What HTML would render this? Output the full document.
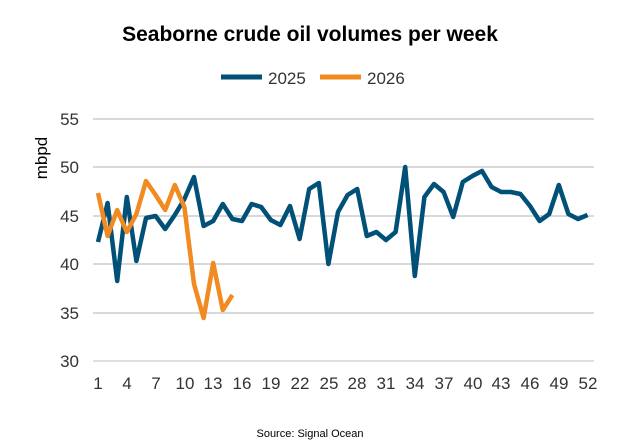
<!DOCTYPE html><html><head><style>body{margin:0;background:#fff}svg{display:block}text{font-family:"Liberation Sans",sans-serif}</style></head><body>
<svg width="620" height="443" xmlns="http://www.w3.org/2000/svg">
<text x="310" y="41" text-anchor="middle" font-size="21" font-weight="bold" fill="#000">Seaborne crude oil volumes per week</text>
<line x1="221" y1="77" x2="262" y2="77" stroke="#005078" stroke-width="5"/><text x="268" y="84" font-size="17" fill="#333">2025</text>
<line x1="320" y1="77" x2="361" y2="77" stroke="#f28a22" stroke-width="5"/><text x="367" y="84" font-size="17" fill="#333">2026</text>
<g stroke="#d9d9d9" stroke-width="2"><line x1="93" y1="119" x2="594" y2="119"/><line x1="93" y1="167" x2="594" y2="167"/><line x1="93" y1="216" x2="594" y2="216"/><line x1="93" y1="264" x2="594" y2="264"/><line x1="93" y1="313" x2="594" y2="313"/></g>
<line x1="93" y1="361" x2="594" y2="361" stroke="#bfbfbf" stroke-width="1"/>
<g font-size="17" fill="#333" text-anchor="end"><text x="79" y="125">55</text><text x="79" y="173">50</text><text x="79" y="222">45</text><text x="79" y="270">40</text><text x="79" y="319">35</text><text x="79" y="367">30</text></g>
<text transform="translate(47,158) rotate(-90)" font-size="17" fill="#000" text-anchor="middle">mbpd</text>
<g font-size="17" fill="#333" text-anchor="middle"><text x="98" y="389">1</text><text x="127" y="389">4</text><text x="156" y="389">7</text><text x="185" y="389">10</text><text x="213" y="389">13</text><text x="242" y="389">16</text><text x="271" y="389">19</text><text x="300" y="389">22</text><text x="329" y="389">25</text><text x="357" y="389">28</text><text x="386" y="389">31</text><text x="415" y="389">34</text><text x="444" y="389">37</text><text x="473" y="389">40</text><text x="501" y="389">43</text><text x="530" y="389">46</text><text x="559" y="389">49</text><text x="588" y="389">52</text></g>
<polyline fill="none" stroke="#005078" stroke-width="4.5" stroke-linejoin="round" points="98,242 107.6,203 117.2,281 126.8,197 136.4,261 146,218 155.6,216 165.2,229 174.8,215 184.4,199 194,177 203.6,226 213.2,221 222.8,204 232.4,219 242,221 251.6,204 261.2,207 270.8,220 280.4,225 290,206 299.6,239 309.2,189 318.8,183 328.4,264 338,212 347.6,195 357.2,189 366.8,236 376.4,232 386,240 395.6,232 405.2,167 414.8,276 424.4,197 434,184 443.6,192 453.2,217 462.8,182 472.4,176 482,171 491.6,187 501.2,192 510.8,192 520.4,194 530,206 539.6,221 549.2,214 558.8,185 568.4,214 578,219 587.6,215"/>
<polyline fill="none" stroke="#f28a22" stroke-width="4.5" stroke-linejoin="round" points="98,193 107.6,236 117.2,210 126.8,232 136.4,214 146,181 155.6,195 165.2,210 174.8,185 184.4,207 194,284 203.6,318 213.2,263 222.8,310 232.4,295"/>
<text x="310" y="437" font-size="11" fill="#000" text-anchor="middle">Source: Signal Ocean</text>
</svg></body></html>
